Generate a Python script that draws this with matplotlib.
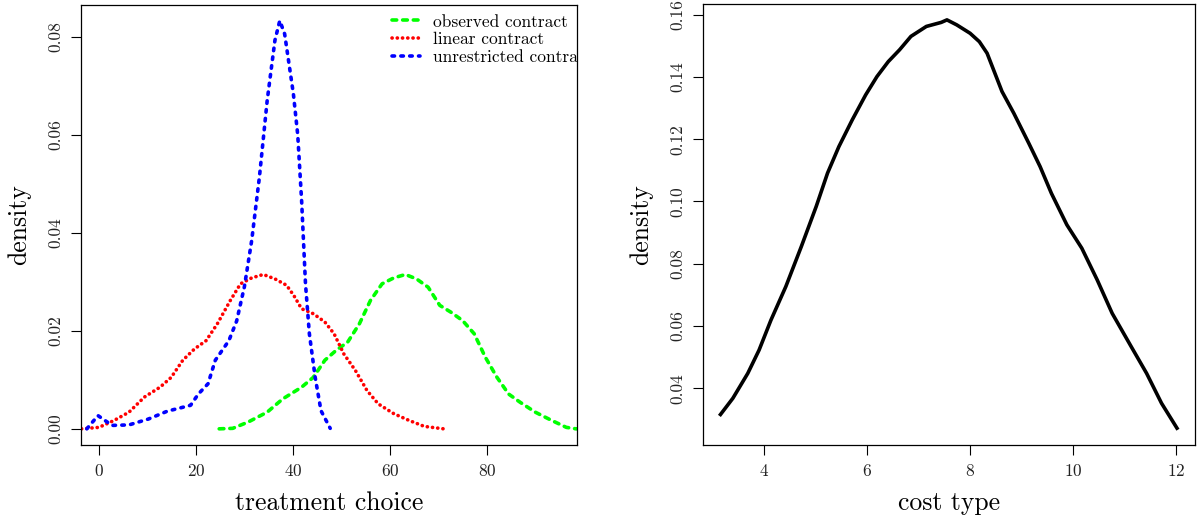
import numpy as np
import matplotlib
matplotlib.use("Agg")
import matplotlib.pyplot as plt

# left panel: density of treatment choice
obs_x = [24.8, 27.6, 30.8, 34.7, 37.9, 41.8, 44.2, 46.6, 48.9, 51.3, 53.7, 56.0, 58.4,
         60.8, 63.2, 65.5, 67.9, 70.3, 72.6, 75.0, 77.4, 79.7, 82.1, 84.5, 86.9, 90.0,
         93.2, 96.4, 98.4, 100.0]
obs_y = [0.0, 0.0001, 0.0014, 0.0034, 0.0061, 0.0085, 0.0105, 0.014, 0.016, 0.0177,
         0.0214, 0.0262, 0.0296, 0.0308, 0.0315, 0.0306, 0.0289, 0.0252, 0.0238, 0.0221,
         0.0194, 0.0146, 0.0105, 0.0071, 0.0054, 0.0034, 0.0018, 0.0003, 0.0, 0.0]

lin_x = [-3.6, 0.0, 3.1, 6.2, 9.4, 12.6, 14.9, 17.3, 19.7, 22.1, 24.4, 27.1, 29.2, 31.5,
         33.9, 36.3, 38.7, 40.2, 41.8, 44.2, 46.6, 48.5, 50.5, 52.9, 55.3, 57.6, 60.8,
         64.0, 67.1, 71.1]
lin_y = [0.0, 0.0003, 0.0017, 0.0034, 0.0065, 0.0085, 0.0105, 0.014, 0.0163, 0.018,
         0.0214, 0.0262, 0.0296, 0.0308, 0.0315, 0.0306, 0.0293, 0.0272, 0.0245, 0.0235,
         0.0218, 0.0194, 0.0153, 0.0119, 0.0078, 0.0051, 0.0031, 0.0017, 0.0005, 0.0]

unr_x = [-2.5, -0.2, 2.7, 6.2, 10.2, 14.1, 18.9, 20.5, 22.5, 24.0, 26.8, 28.4, 30.0,
         31.5, 33.1, 34.7, 36.3, 37.3, 38.3, 40.1, 41.0, 41.8, 42.6, 43.4, 44.6, 45.8,
         47.7]
unr_y = [0.0, 0.0027, 0.0007, 0.0008, 0.002, 0.0036, 0.0048, 0.0071, 0.0092, 0.014,
         0.018, 0.022, 0.029, 0.0384, 0.0514, 0.067, 0.0793, 0.0833, 0.0806, 0.0684,
         0.060, 0.0466, 0.0296, 0.0194, 0.0105, 0.0037, 0.0001]

# right panel: density of cost type
cost_x = [3.15, 3.39, 3.68, 3.90, 4.13, 4.42, 4.72, 5.01, 5.23, 5.45, 5.71, 5.97, 6.19,
          6.41, 6.63, 6.85, 7.15, 7.44, 7.55, 7.74, 8.00, 8.18, 8.33, 8.62, 8.85, 9.14,
          9.36, 9.58, 9.88, 10.17, 10.47, 10.76, 11.13, 11.43, 11.72, 12.02]
cost_y = [0.0316, 0.0368, 0.0448, 0.0523, 0.0619, 0.0727, 0.0855, 0.0984, 0.1091,
          0.1176, 0.1262, 0.1342, 0.1401, 0.1449, 0.1487, 0.1530, 0.1562, 0.1575,
          0.1583, 0.1567, 0.1540, 0.1513, 0.1476, 0.1353, 0.1283, 0.1187, 0.1112,
          0.1026, 0.0925, 0.0850, 0.0748, 0.0641, 0.0534, 0.0448, 0.0352, 0.0272]

left_xticks = [0, 20, 40, 60, 80]
left_yticks = [0.00, 0.02, 0.04, 0.06, 0.08]
right_xticks = [4, 6, 8, 10, 12]
right_yticks = [0.04, 0.06, 0.08, 0.10, 0.12, 0.14, 0.16]

plt.rcParams['font.family'] = 'cmr10'
plt.rcParams['axes.formatter.use_mathtext'] = True

W, H = 1198, 523
fig = plt.figure(figsize=(W / 100, H / 100), dpi=100)

def box(l, r, t, b):
    return [l / W, 1 - b / H, (r - l) / W, (b - t) / H]

ax1 = fig.add_axes(box(81, 577, 5, 445))
ax2 = fig.add_axes(box(703, 1195, 4, 445))

lw = 2.6
ax1.plot(obs_x, obs_y, color='#00ff00', lw=lw, dashes=(1.3, 1.65),
         dash_capstyle='round', label='observed contract')
ax1.plot(lin_x, lin_y, color='#ff0000', lw=lw, dashes=(0.05, 1.4),
         dash_capstyle='round', label='linear contract')
ax1.plot(unr_x, unr_y, color='#0000ff', lw=lw, dashes=(0.7, 1.75),
         dash_capstyle='round', label='unrestricted contract')
ax1.set_xlim(-3.7, 98.6)
ax1.set_ylim(-0.0033, 0.0865)
ax1.set_xticks(left_xticks)
ax1.set_yticks(left_yticks)
ax1.set_yticklabels(['%.2f' % v for v in left_yticks])
ax1.set_xlabel('treatment choice', fontsize=18.5, labelpad=9)
ax1.set_ylabel('density', fontsize=18.5, labelpad=12)

leg = ax1.legend(loc='upper left', bbox_to_anchor=(0.627, 0.979), frameon=False,
                 fontsize=12.5, handlelength=1.6, handletextpad=0.75, labelspacing=0.14,
                 borderpad=0, borderaxespad=0)
for t in leg.get_texts():
    t.set_clip_path(ax1.patch)

ax2.plot(cost_x, cost_y, color='black', lw=lw)
ax2.set_xlim(2.81, 12.37)
ax2.set_ylim(0.0218, 0.1634)
ax2.set_xticks(right_xticks)
ax2.set_yticks(right_yticks)
ax2.set_yticklabels(['%.2f' % v for v in right_yticks])
ax2.set_xlabel('cost type', fontsize=18.5, labelpad=9)
ax2.set_ylabel('density', fontsize=18.5, labelpad=12)

for ax in (ax1, ax2):
    for s in ax.spines.values():
        s.set_linewidth(0.9)
    ax.tick_params(length=7, width=0.8, labelsize=12.5, pad=6, labelcolor='#222222')
    for lab in ax.get_yticklabels():
        lab.set_rotation(90)
        lab.set_va('center')

fig.savefig('out.png', dpi=100)
